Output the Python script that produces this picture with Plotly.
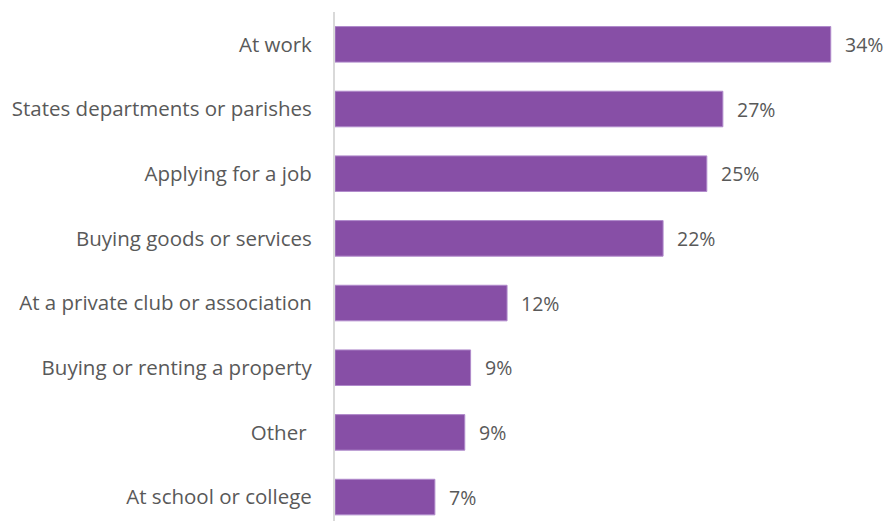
import plotly.graph_objects as go

categories = ["At work", "States departments or parishes", "Applying for a job",
              "Buying goods or services", "At a private club or association",
              "Buying or renting a property", "Other ", "At school or college"]
values = [34.0, 26.6, 25.5, 22.5, 11.8, 9.3, 8.9, 6.85]
value_labels = ["34%", "27%", "25%", "22%", "12%", "9%", "9%", "7%"]

FONT = "Open Sans"
FS = 20.5
TXT = "#595959"

fig = go.Figure()
fig.add_trace(go.Bar(
    y=categories, x=values, orientation="h",
    marker=dict(color="#874FA6", line=dict(color="#B08ACB", width=1)),
    width=0.55, hoverinfo="skip",
))
for c, v, t in zip(categories, values, value_labels):
    fig.add_annotation(x=v, y=c, text=t, showarrow=False, xanchor="left",
                       xshift=12, font=dict(family=FONT, size=19.5, color=TXT))

# the page body adds an 8px margin, so the figure is sized/offset to compensate
fig.update_layout(
    width=884, height=513,
    margin=dict(l=327, r=0, t=4, b=0),
    plot_bgcolor="white", paper_bgcolor="white",
    showlegend=False,
    font=dict(family=FONT, size=FS, color=TXT),
    xaxis=dict(range=[0, 38.2], visible=False, automargin=False),
    yaxis=dict(type="category", categoryorder="array", categoryarray=categories,
               range=[7.37, -0.5], showline=True, linecolor="#D9D9D9", linewidth=2,
               ticks="", showgrid=False, zeroline=False, ticklabelstandoff=17,
               automargin=False,
               tickfont=dict(family=FONT, size=FS, color=TXT)),
)
fig.write_html("out.html")
